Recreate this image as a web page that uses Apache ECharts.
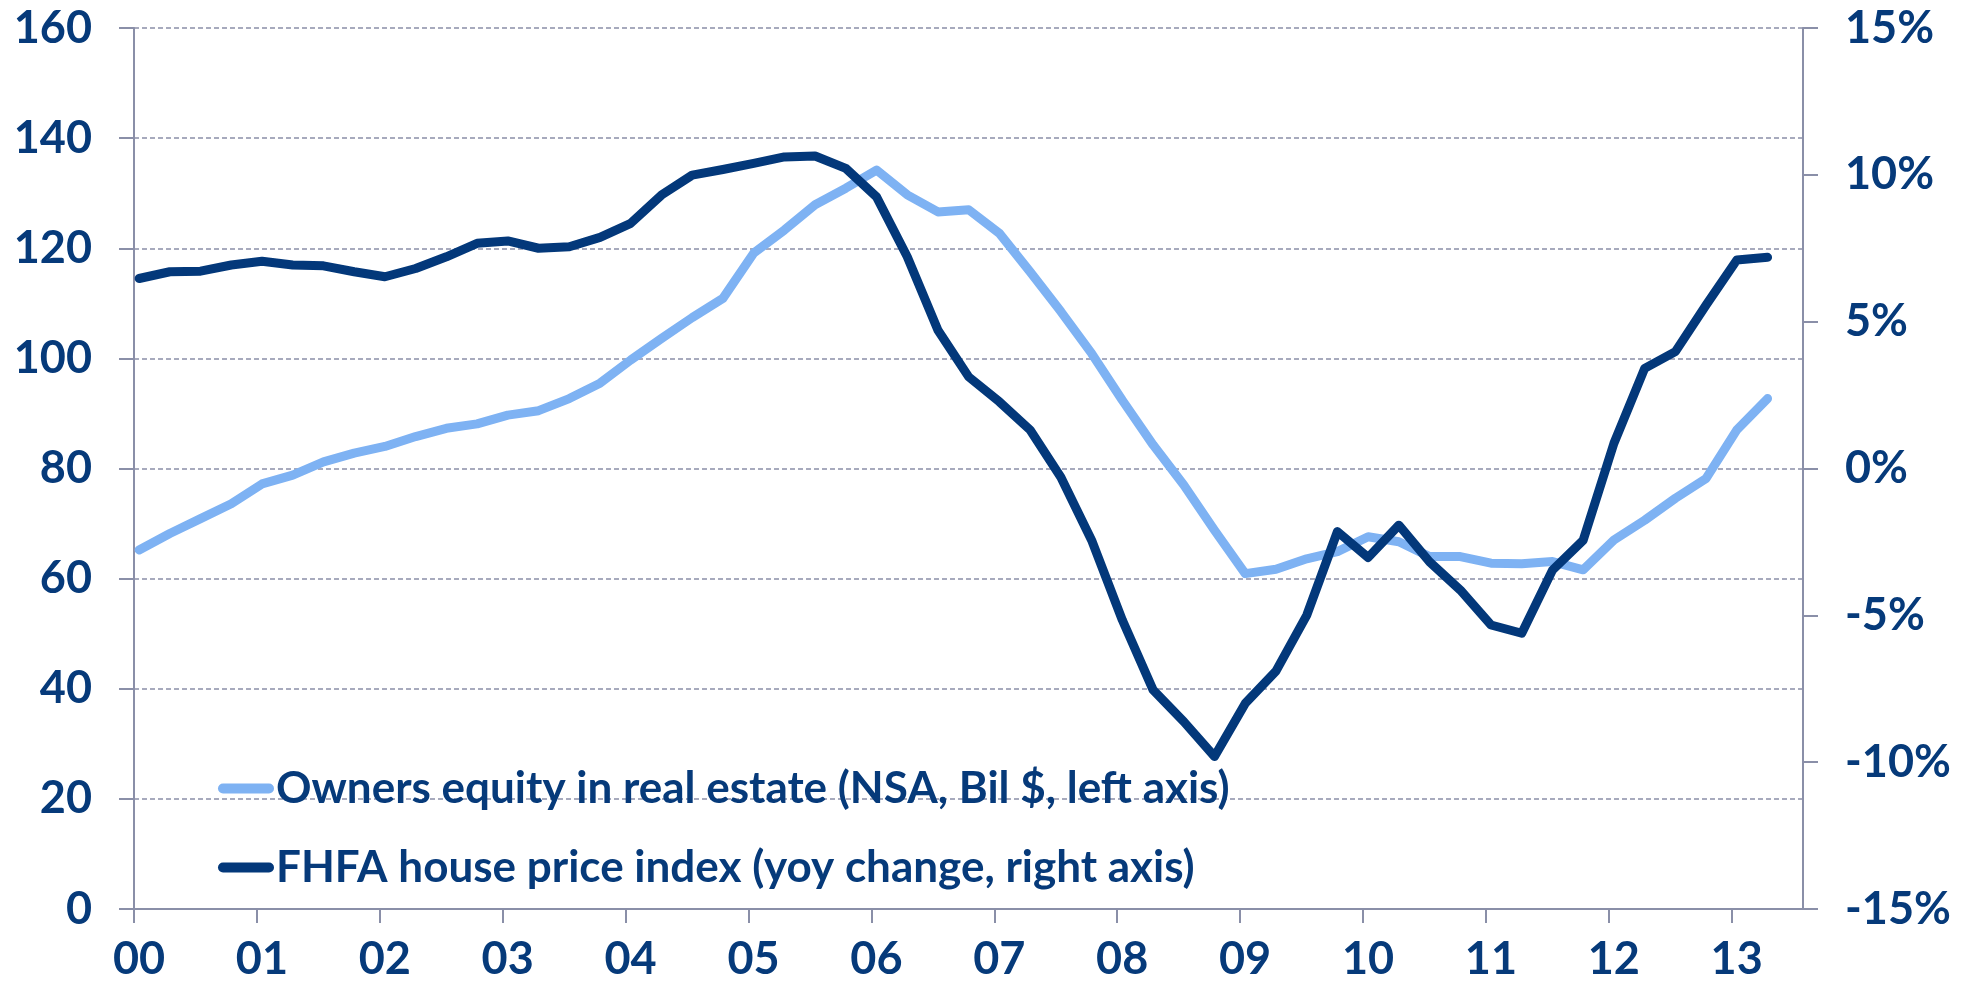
<!DOCTYPE html>
<html>
<head>
<meta charset="utf-8">
<script src="https://cdn.jsdelivr.net/npm/echarts@6/dist/echarts.min.js"></script>
<style>
  html, body { margin: 0; padding: 0; background: #fff; }
  #chart { width: 1963px; height: 987px; }
</style>
</head>
<body>
<div id="chart"></div>
<script>
// quarterly, 2000Q1 .. 2013Q2
var quarters = [];
for (var yr = 2000; yr <= 2013; yr++) {
    for (var q = 1; q <= 4; q++) {
        if (yr === 2013 && q > 2) break;
        quarters.push(yr + 'Q' + q);
    }
}

// Owners equity in real estate (NSA, Bil $, left axis)
var equity = [
    65.2, 68.2, 70.9, 73.6, 77.2, 78.8, 81.2, 82.8,
    84.0, 85.8, 87.3, 88.1, 89.7, 90.5, 92.7, 95.5,
    99.7, 103.6, 107.4, 110.9, 119.1, 123.3, 127.9, 130.9,
    134.2, 129.7, 126.6, 127.0, 122.7, 115.7, 108.5, 100.9,
    92.4, 84.3, 77.0, 68.8, 60.9, 61.7, 63.6, 64.9,
    67.6, 66.7, 64.0, 64.0, 62.8, 62.7, 63.1, 61.6,
    67.0, 70.6, 74.6, 78.2, 87.0, 92.7
];

// FHFA house price index (yoy change %, right axis)
var fhfa = [
    6.47, 6.70, 6.72, 6.93, 7.06, 6.93, 6.90, 6.70,
    6.53, 6.81, 7.21, 7.67, 7.75, 7.50, 7.55, 7.87,
    8.35, 9.31, 9.99, 10.18, 10.39, 10.61, 10.64, 10.22,
    9.25, 7.21, 4.71, 3.12, 2.27, 1.31, -0.30, -2.44,
    -5.16, -7.54, -8.62, -9.81, -8.00, -6.90, -5.00, -2.15,
    -3.03, -1.93, -3.18, -4.14, -5.33, -5.61, -3.46, -2.44,
    0.86, 3.41, 3.98, 5.57, 7.10, 7.19
];

var yearLabels = ['00', '01', '02', '03', '04', '05', '06', '07', '08', '09', '10', '11', '12', '13'];
var yearTicks = [0, 1, 2, 3, 4, 5, 6, 7, 8, 9, 10, 11, 12, 13];

var legendNames = [
    'Owners equity in real estate (NSA, Bil $, left axis)',
    'FHFA house price index (yoy change, right axis)'
];

// quarter -> years since 2000, placed at middle of the quarter's first month
function xOf(label) {
    var y = parseInt(label.slice(0, 4), 10) - 2000;
    var qq = parseInt(label.slice(5), 10);
    return y + (3 * (qq - 1) + 0.5) / 12;
}

var textColor = '#063a7a';
var axisColor = '#8a8fa8';
var font = 'Lato';

var chart = echarts.init(document.getElementById('chart'));
chart.setOption({
    animation: false,
    grid: { left: 134, right: 160, top: 28, bottom: 78 },
    legend: {
        orient: 'vertical',
        left: 213,
        top: 761,
        itemWidth: 56,
        itemHeight: 11,
        itemGap: 34,
        icon: 'path://M5,0 L51,0 A5,5 0 0 1 51,10 L5,10 A5,5 0 0 1 5,0 Z',
        textStyle: { color: textColor, fontFamily: font, fontWeight: 'bold', fontSize: 44, lineHeight: 45, padding: [0, 0, 0, -3] },
        data: legendNames
    },
    xAxis: {
        type: 'value',
        min: 0,
        max: 13.58,
        splitLine: { show: false },
        axisLine: { show: true, lineStyle: { color: axisColor, width: 2 } },
        axisTick: { show: true, length: 14, lineStyle: { color: axisColor, width: 2 }, customValues: yearTicks },
        axisLabel: {
            customValues: yearTicks,
            color: textColor, fontFamily: font, fontWeight: 'bold', fontSize: 45, margin: 28,
            padding: [0, 0, 0, 10],
            formatter: function (v) { return yearLabels[Math.round(v)]; }
        }
    },
    yAxis: [{
        type: 'value',
        min: 0, max: 160, interval: 20,
        axisLine: { show: true, lineStyle: { color: axisColor, width: 2 } },
        axisTick: { show: true, length: 15, lineStyle: { color: axisColor, width: 2 } },
        axisLabel: { color: textColor, fontFamily: font, fontWeight: 'bold', fontSize: 45, margin: 42 },
        splitLine: { show: true, lineStyle: { color: axisColor, width: 1.5, type: [5, 3] } }
    }, {
        type: 'value',
        position: 'right',
        min: -15, max: 15, interval: 5,
        axisLine: { show: true, lineStyle: { color: axisColor, width: 2 } },
        axisTick: { show: true, length: 15, lineStyle: { color: axisColor, width: 2 } },
        axisLabel: { color: textColor, fontFamily: font, fontWeight: 'bold', fontSize: 45, margin: 42, formatter: '{value}%' },
        splitLine: { show: false }
    }],
    series: [{
        name: legendNames[0],
        type: 'line',
        yAxisIndex: 0,
        symbol: 'none',
        itemStyle: { color: '#7eb2f3' },
        lineStyle: { color: '#7eb2f3', width: 9, cap: 'round', join: 'round' },
        data: quarters.map(function (q, i) { return [xOf(q), equity[i]]; })
    }, {
        name: legendNames[1],
        type: 'line',
        yAxisIndex: 1,
        symbol: 'none',
        itemStyle: { color: '#03387a' },
        lineStyle: { color: '#03387a', width: 9, cap: 'round', join: 'round' },
        data: quarters.map(function (q, i) { return [xOf(q), fhfa[i]]; })
    }]
});
</script>
</body>
</html>
